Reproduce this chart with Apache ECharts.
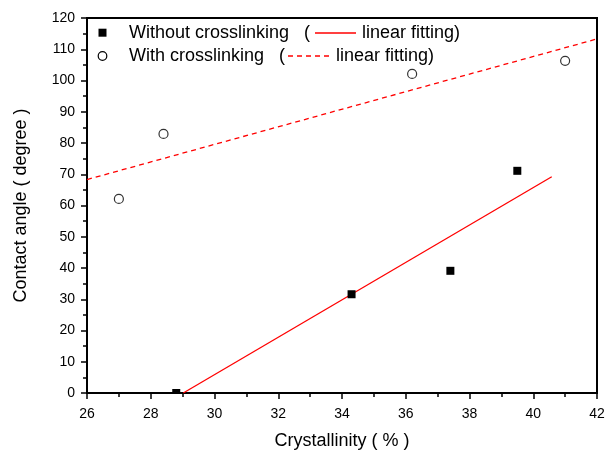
<!DOCTYPE html>
<html>
<head>
<meta charset="utf-8">
<script src="https://cdn.jsdelivr.net/npm/echarts@6/dist/echarts.min.js"></script>
<style>html,body{margin:0;padding:0;background:#fff}#c{width:606px;height:453px}</style>
</head>
<body>
<div id="c"></div>
<script>
// Data
var withoutX = [28.8, 34.3, 37.4, 39.5];
var withoutY = [0, 31.6, 39.1, 71.1];
var withX = [27.0, 28.4, 36.2, 41.0];
var withY = [62.1, 82.9, 102.1, 106.3];
var fitWithoutX = [29.02, 40.58];
var fitWithoutY = [0, 69.2];
var fitWithX = [26, 42];
var fitWithY = [68.3, 113.3];
var xTicks = [26, 28, 30, 32, 34, 36, 38, 40, 42];
var yTicks = [0, 10, 20, 30, 40, 50, 60, 70, 80, 90, 100, 110, 120];
var xName = 'Crystallinity ( % )';
var yName = 'Contact angle ( degree )';
var legendRows = [
  {label: 'Without crosslinking', fit: 'linear fitting)'},
  {label: 'With crosslinking', fit: 'linear fitting)'}
];

function pairs(xs, ys){ return xs.map(function(x,i){ return [x, ys[i]]; }); }

var FONT = '"Liberation Sans", Arial, Helvetica, sans-serif';
var chart = echarts.init(document.getElementById('c'), null, {renderer:'canvas'});

var axisCommon = {
  axisLine: {show:true, lineStyle:{color:'#000', width:2}},
  axisTick: {show:true, inside:false, length:6, lineStyle:{color:'#000', width:1.5}},
  minorTick: {show:true, splitNumber:2, length:4, lineStyle:{color:'#000', width:1.5}},
  splitLine: {show:false},
  axisLabel: {color:'#000', fontSize:14, fontFamily:FONT},
  nameTextStyle: {color:'#000', fontSize:18, fontFamily:FONT},
  nameLocation: 'middle'
};

var option = {
  backgroundColor:'#fff',
  animation:false,
  grid: {left:87, right:9, top:18, bottom:60, show:true, borderColor:'#000', borderWidth:2,
         backgroundColor:'transparent', containLabel:false, outerBoundsMode:'none'},
  xAxis: Object.assign({}, axisCommon, {
    type:'value', min:xTicks[0], max:xTicks[xTicks.length-1], interval:2,
    name:xName, nameGap:39,
    axisLabel: Object.assign({}, axisCommon.axisLabel, {margin:14})
  }),
  yAxis: Object.assign({}, axisCommon, {
    type:'value', min:yTicks[0], max:yTicks[yTicks.length-1], interval:10,
    name:yName, nameGap:57, nameRotate:90,
    axisLabel: Object.assign({}, axisCommon.axisLabel, {margin:12})
  }),
  series: [
    {
      type:'line', data:pairs(fitWithoutX, fitWithoutY), symbol:'none',
      lineStyle:{color:'#ff0000', width:1.3}, z:3, clip:true
    },
    {
      type:'line', data:pairs(fitWithX, fitWithY), symbol:'none',
      lineStyle:{color:'#ff0000', width:1.3, type:[5,4]}, z:3, clip:true
    },
    {
      type:'custom', data:pairs(withoutX, withoutY), clip:true, z:4,
      renderItem: function(params, api){
        var c = api.coord([api.value(0), api.value(1)]);
        return {type:'rect', shape:{x:c[0]-4, y:c[1]-4, width:8, height:8}, style:{fill:'#000'}};
      }
    },
    {
      type:'scatter', data:pairs(withX, withY), symbol:'circle', symbolSize:9, z:4,
      itemStyle:{color:'#fff', borderColor:'#000', borderWidth:1.2}
    }
  ],
  graphic: [
    {type:'rect', shape:{x:98.5, y:28.7, width:8, height:8}, style:{fill:'#000'}},
    {type:'text', x:129, y:33, style:{text:legendRows[0].label, font:'18px '+FONT, fill:'#000', textVerticalAlign:'middle'}},
    {type:'text', x:304, y:33, style:{text:'(', font:'18px '+FONT, fill:'#000', textVerticalAlign:'middle'}},
    {type:'line', shape:{x1:315, y1:33, x2:356, y2:33}, style:{stroke:'#ff0000', lineWidth:1.3}},
    {type:'text', x:362, y:33, style:{text:legendRows[0].fit, font:'18px '+FONT, fill:'#000', textVerticalAlign:'middle'}},
    {type:'circle', shape:{cx:102.5, cy:56, r:4.3}, style:{fill:'#fff', stroke:'#000', lineWidth:1.2}},
    {type:'text', x:129, y:56, style:{text:legendRows[1].label, font:'18px '+FONT, fill:'#000', textVerticalAlign:'middle'}},
    {type:'text', x:279, y:56, style:{text:'(', font:'18px '+FONT, fill:'#000', textVerticalAlign:'middle'}},
    {type:'line', shape:{x1:288, y1:56, x2:330, y2:56}, style:{stroke:'#ff0000', lineWidth:1.3, lineDash:[5,4]}},
    {type:'text', x:336, y:56, style:{text:legendRows[1].fit, font:'18px '+FONT, fill:'#000', textVerticalAlign:'middle'}}
  ]
};
chart.setOption(option);
</script>
</body>
</html>
